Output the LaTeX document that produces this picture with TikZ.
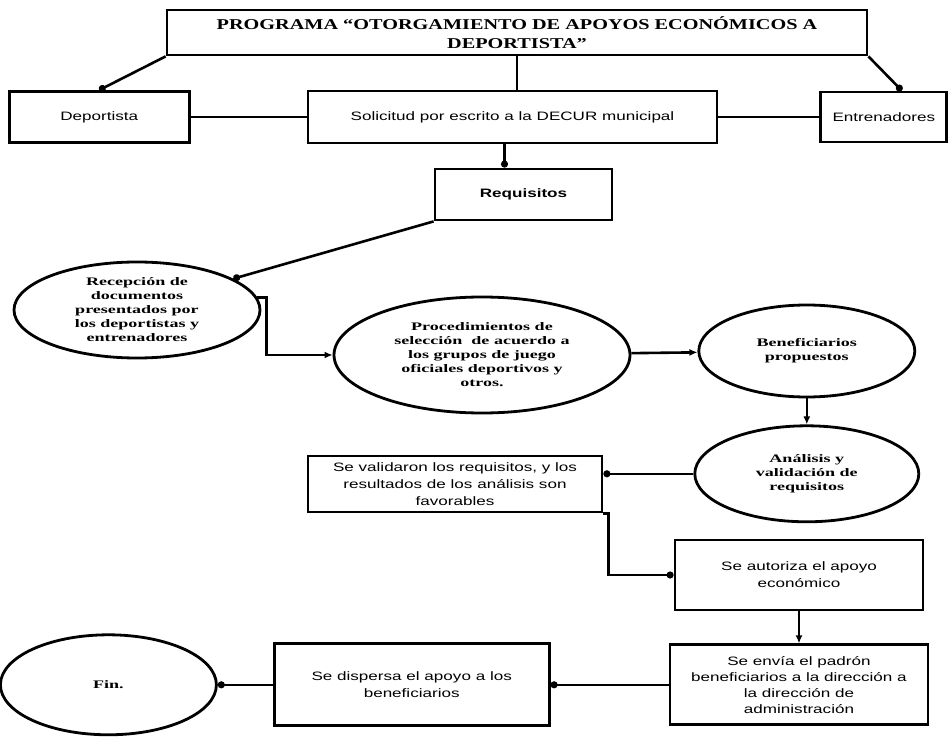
\documentclass[tikz,border=0pt]{standalone}
\usepackage{fontspec}
\usetikzlibrary{positioning,shapes.geometric,arrows.meta}
\newfontfamily\boxfont[FakeStretch=1.4]{Liberation Sans}
\newfontfamily\ovalfont[FakeStretch=1.57]{Liberation Serif}
\newfontfamily\titlefont[FakeStretch=1.35]{Liberation Serif}

\begin{document}
\begin{tikzpicture}[
  x=1pt, y=-1pt,
  mybox/.style={draw,line width=2.8pt,rectangle,inner sep=2pt,align=center,
    font=\boxfont\fontsize{12.2}{17}\selectfont},
  myoval/.style={draw,line width=2.8pt,ellipse,inner sep=0pt,align=center,
    font=\ovalfont\bfseries\fontsize{11.5}{14}\selectfont},
  dotend/.style={-{Circle[length=7pt]}},
  arrowend/.style={-{Latex[length=8pt,width=7pt]}}]
\fill[white] (0,0) rectangle (948,738);
\useasboundingbox (0,0) rectangle (948,738);

\node[mybox, minimum width=700pt, minimum height=45pt,
  font=\titlefont\bfseries\fontsize{15}{19}\selectfont] (title) at (517,32.5)
  {PROGRAMA “OTORGAMIENTO DE APOYOS ECONÓMICOS A\\DEPORTISTA”};
\node[mybox, minimum width=409pt, minimum height=52pt] (sol) at (512.5,117)
  {Solicitud por escrito a la DECUR municipal};
\node[mybox, minimum width=180pt, minimum height=51pt, left=116pt of sol] (dep) {Deportista};
\node[mybox, minimum width=126pt, minimum height=50pt, right=101pt of sol] (ent) {Entrenadores};
\node[mybox, minimum width=177pt, minimum height=51pt,
  font=\boxfont\bfseries\fontsize{12.2}{17}\selectfont] (req) at (523.5,194.5) {Requisitos};

\node[myoval, minimum width=246pt, minimum height=96pt] (rec) at (137,310)
  {Recepción de\\documentos\\presentados por\\los deportistas y\\entrenadores};
\node[myoval, minimum width=296pt, minimum height=116pt] (proc) at (482,355)
  {Procedimientos de\\selección \ de acuerdo a\\los grupos de juego\\oficiales deportivos y\\otros.};
\node[myoval, minimum width=216pt, minimum height=92pt, right=66pt of proc, yshift=4pt] (ben)
  {Beneficiarios\\propuestos};
\node[myoval, minimum width=224pt, minimum height=96pt, below=26pt of ben] (ana)
  {Análisis y\\validación de\\requisitos};

\node[mybox, minimum width=294pt, minimum height=56pt] (val) at (455,484)
  {Se validaron los requisitos, y los\\resultados de los análisis son\\favorables};
\node[mybox, minimum width=248pt, minimum height=70pt] (aut) at (799,575)
  {Se autoriza el apoyo\\económico};
\node[mybox, minimum width=258pt, minimum height=80pt, below=32pt of aut,
  font=\boxfont\fontsize{12.2}{16}\selectfont] (env)
  {Se envía el padrón\\beneficiarios a la dirección a\\la dirección de\\administración};
\node[mybox, minimum width=275pt, minimum height=82pt, left=118pt of env] (dis)
  {Se dispersa el apoyo a los\\beneficiarios};
\node[myoval, minimum width=216pt, minimum height=100pt, left=55pt of dis] (fin) {Fin.};

\coordinate (s1) at ([xshift=-8pt]sol.south);

\path[draw,line width=2.6pt]
  (title.south west) edge[dotend] (dep.north)
  (title.south east) edge[dotend] ([xshift=18pt]ent.north)
  (title.south) edge (title.south |- sol.north)
  (dep) edge (sol)
  (sol) edge (ent)
  (s1) edge[dotend] (s1 |- req.north)
  (req.south west) edge[dotend] (rec.18)
  (proc) edge[arrowend] (ben)
  (ben) edge[arrowend] (ana)
  (ana.west) edge[dotend] (ana.west -| val.east)
  (aut) edge[arrowend] (env)
  (env) edge[dotend] (dis)
  (dis) edge[dotend] (fin);
\draw[line width=2.6pt,arrowend] (rec.6) -- ++(9pt,0) |- (proc.west);
\draw[line width=2.6pt,dotend] (val.south east) -- ++(5pt,0) |- (aut.west);

\end{tikzpicture}
\end{document}
